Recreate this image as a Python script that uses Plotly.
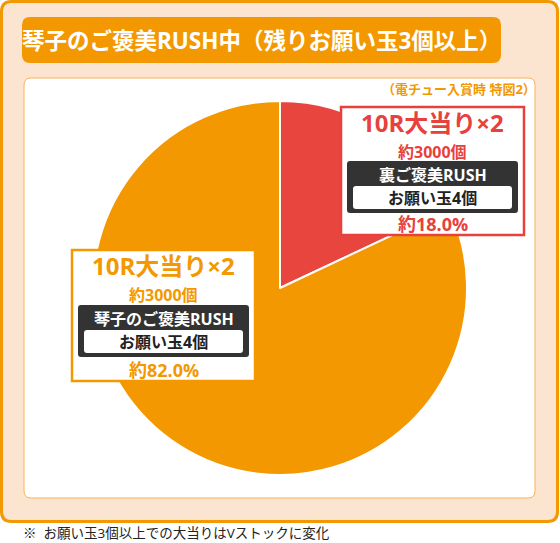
import plotly.graph_objects as go

W, H = 560, 543

# ---- data ----
slice_labels = ["裏ご褒美RUSH", "琴子のご褒美RUSH"]
slice_values = [18.0, 82.0]
slice_colors = ["#E8453F", "#F39800"]

title_text = "琴子のご褒美RUSH中（残りお願い玉3個以上）"
note_text = "（電チュー入賞時 特図2）"
foot_text = "※  お願い玉3個以上での大当りはVストックに変化"

label_head = ["10R大当り×2", "10R大当り×2"]
label_sub = ["約3000個", "約3000個"]
label_rush = ["裏ご褒美RUSH", "琴子のご褒美RUSH"]
label_ball = ["お願い玉4個", "お願い玉4個"]
label_pct = ["約18.0%", "約82.0%"]

FONT = "Open Sans, Noto Sans CJK JP"
ORANGE = "#F39800"
RED = "#E8413C"
DARK = "#333333"


def px(x, y):
    return f"{x / W:.5f},{1 - y / H:.5f}"


def rrect(x0, y0, x1, y1, r, fill, line_color=None, line_width=0, layer="above"):
    p = (f"M{px(x0 + r, y0)} L{px(x1 - r, y0)} Q{px(x1, y0)} {px(x1, y0 + r)} "
         f"L{px(x1, y1 - r)} Q{px(x1, y1)} {px(x1 - r, y1)} "
         f"L{px(x0 + r, y1)} Q{px(x0, y1)} {px(x0, y1 - r)} "
         f"L{px(x0, y0 + r)} Q{px(x0, y0)} {px(x0 + r, y0)} Z")
    return dict(type="path", path=p, xref="paper", yref="paper",
                fillcolor=fill,
                line=dict(color=line_color or fill, width=line_width),
                layer=layer)


def ann(text, x, y, size, color, bold=True, xanchor="center"):
    return dict(text=f"<b>{text}</b>" if bold else text,
                x=x / W, y=1 - y / H, xref="paper", yref="paper",
                xanchor=xanchor, yanchor="middle", showarrow=False,
                borderpad=0,
                font=dict(family=FONT, size=size, color=color))


fig = go.Figure()
fig.add_trace(go.Pie(
    labels=slice_labels, values=slice_values, sort=False,
    direction="clockwise", rotation=0,
    marker=dict(colors=slice_colors, line=dict(color="white", width=2)),
    textinfo="none", hoverinfo="label+percent", showlegend=False,
    domain=dict(x=[93 / W, 467 / W], y=[1 - 475 / H, 1 - 101 / H]),
))

shapes = [
    rrect(1.5, 1.5, 557.5, 521.5, 10, "#FCE5D0", ORANGE, 3, "below"),
    rrect(22, 17, 501, 63, 8, ORANGE, ORANGE, 0, "below"),
    rrect(24, 78, 535, 498, 7, "white", "#F7B45A", 1, "below"),
]

boxes = [
    dict(x0=341, y0=107, x1=524, y1=235, color=RED, tc=RED, bo=54),
    dict(x0=72, y0=250, x1=255, y1=381, color=ORANGE, tc=ORANGE, bo=55),
]
annotations = [
    ann(title_text, 261, 40, 22.5, "white"),
    ann(note_text, 537, 89, 13, ORANGE, xanchor="right"),
    dict(text=foot_text, x=22 / W, y=1 - 533 / H, xref="paper", yref="paper",
         xanchor="left", yanchor="middle", showarrow=False, borderpad=0,
         font=dict(family=FONT, size=13.5, color="#222222")),
]
for i, b in enumerate(boxes):
    x0, y0, x1, y1 = b["x0"], b["y0"], b["x1"], b["y1"]
    cx = (x0 + x1) / 2
    shapes.append(dict(type="rect", xref="paper", yref="paper",
                       x0=x0 / W, x1=x1 / W, y0=1 - y0 / H, y1=1 - y1 / H,
                       fillcolor="white", line=dict(color=b["color"], width=2.5),
                       layer="above"))
    by0 = y0 + b["bo"]
    shapes.append(rrect(x0 + 6, by0, x1 - 6, by0 + 52, 3, DARK, DARK, 0, "above"))
    shapes.append(rrect(x0 + 12, by0 + 25, x1 - 12, by0 + 48, 3, "white", "white", 0, "above"))
    annotations += [
        ann(label_head[i], cx, y0 + 15.5, 24, b["tc"]),
        ann(label_sub[i], cx, y0 + 44.6, 16, b["tc"]),
        ann(label_rush[i], cx, by0 + 14, 16, "white"),
        ann(label_ball[i], cx, by0 + 37.4, 16, "#222222"),
        ann(label_pct[i], cx, y1 - 11, 18, b["tc"]),
    ]

fig.update_layout(
    width=W, height=H, autosize=False,
    margin=dict(l=0, r=0, t=0, b=0),
    paper_bgcolor="white", plot_bgcolor="white",
    shapes=shapes, annotations=annotations,
)

fig.write_html("out.html")
